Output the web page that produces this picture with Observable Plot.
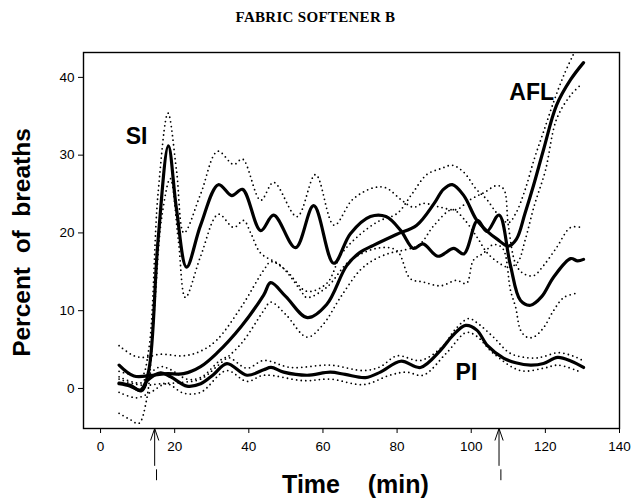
<!DOCTYPE html>
<html>
<head>
<meta charset="utf-8">
<script src="https://cdn.jsdelivr.net/npm/d3@7"></script>
<script src="https://cdn.jsdelivr.net/npm/@observablehq/plot@0.6"></script>
<style>
  html, body { margin: 0; padding: 0; background: #fff; }
  #title { height: 36px; width: 631px; text-align: center; font-family: "Liberation Serif", "Times New Roman", serif; font-weight: bold; font-size: 15px; line-height: 34px; letter-spacing: 0.3px; color: #000; }
  svg { display: block; }
</style>
</head>
<body>
<div id="title">FABRIC SOFTENER B</div>
<div id="chart"></div>
<script>
// ---- Data ----
const xTicks = [0, 20, 40, 60, 80, 100, 120, 140];
const yTicks = [0, 10, 20, 30, 40];

// SI (solid)
const siTime  = [5, 8, 11, 13, 15.5, 18.3, 20.5, 23.2, 27, 31.8, 35.4, 38.3, 43.2, 46.7, 52.6, 57.5, 62.9, 67.4, 72.8, 77, 81, 84.4, 87, 91, 95.3, 98, 101.7, 104.2, 107.5, 110.5, 113.3, 116, 119, 122.2, 126.8, 128.7, 130.3];
const siValue = [0.7, 0.4, -0.3, 2.3, 19, 31.2, 23, 15.6, 21, 26.2, 24.8, 25.6, 20.3, 22.3, 18.1, 23.5, 16.1, 19.9, 22.1, 22.1, 20.3, 18, 18.6, 17, 18, 17.3, 21.6, 20.2, 22.3, 16, 11.3, 10.7, 11.8, 14.3, 16.7, 16.4, 16.6];
// SI upper / lower (dotted)
const siUpTime  = [5, 8, 11, 13, 15.5, 18.2, 20.5, 22.5, 27, 31.6, 35.9, 38.3, 43.2, 46.7, 53, 58, 63, 68, 73.6, 77, 81, 84.4, 87, 91.7, 96, 99.8, 103.5, 107, 108.8, 110, 112, 114, 116.8, 119.5, 123, 126.8, 129.7];
const siUpValue = [2.2, 1.8, 1.5, 5, 25, 35.4, 28, 20, 25, 30.5, 28.8, 29.5, 24.2, 26.5, 22.1, 27.5, 21, 24.3, 25.8, 25.8, 24.3, 23.3, 23.8, 23.3, 23, 24.3, 25.2, 26.1, 25.6, 21, 16, 14.8, 14.5, 15.8, 18.1, 20.7, 20.7];
const siLoTime  = [5, 8, 10.3, 12.4, 14.5, 16.5, 18.8, 21, 22.9, 27, 31.8, 35.9, 38.6, 40.5, 43.2, 48.6, 54, 55.6, 61, 67.4, 75.5, 80, 83.6, 87, 91.7, 96, 98.7, 100.6, 103.3, 106, 108.5, 110.6, 112, 113.3, 115, 116.8, 119.5, 122.2, 125, 129];
const siLoValue = [-3.2, -4, -4.5, -1.5, 10, 22, 27, 19, 11.7, 17, 22.4, 20.7, 21.6, 20, 17.4, 15.8, 12.6, 11.7, 13, 16.5, 18.1, 17.7, 14.1, 13.7, 13.2, 13.9, 13.5, 16.5, 17.4, 18.5, 18, 12.6, 10.4, 7.5, 6.6, 6.6, 7.8, 10, 11.7, 12.3];

// AFL (solid)
const aflTime  = [5, 9, 14, 18, 22.4, 27, 31.3, 38, 44, 45.9, 50, 55.8, 61, 66.4, 70, 73.6, 79.8, 85.3, 90, 92.5, 94.9, 98, 101.4, 104.1, 107, 110, 112.2, 114.5, 116.8, 119.5, 123, 126.8, 130.3];
const aflValue = [3.0, 1.6, 1.7, 1.9, 1.9, 2.8, 4.5, 8.0, 12.0, 13.6, 11.8, 9.1, 10.8, 15.8, 17.5, 18.4, 19.8, 21, 23.8, 25.6, 26.2, 24.8, 21.7, 20.3, 19.2, 18.3, 19.2, 22.5, 26.1, 30.7, 36.4, 39.7, 41.9];
const aflUpTime  = [5, 9, 12, 16, 22.4, 27, 31.3, 38, 44, 46, 50, 55.6, 61, 65, 70, 75, 80, 84, 88, 92, 94.9, 98, 101.4, 104.2, 107, 110, 112, 114.5, 117, 119.5, 122.2, 125, 127.6];
const aflUpValue = [5.5, 4.2, 4.0, 4.4, 4.2, 4.8, 6.2, 10.5, 15.2, 16.3, 15.2, 12.5, 13.5, 17.3, 19.8, 21.5, 22.5, 25, 27.5, 28.3, 28.7, 27.8, 25.6, 24.3, 22.5, 21.3, 22.5, 25.5, 29.5, 33, 36.8, 40.3, 43];
const aflLoTime  = [5, 9, 12, 16, 22.4, 27, 31.3, 38, 44, 45.9, 50, 55.7, 60, 64.7, 70, 73.6, 78, 81, 86, 90, 94.9, 98, 101.5, 104.2, 107, 110, 112.5, 114.5, 117, 120, 123, 126.8, 129.7];
const aflLoValue = [1.2, 0.6, 0.4, 0.6, 0.8, 1.2, 2.8, 5.8, 10.0, 11.1, 9.5, 6.6, 8.2, 11.7, 15.2, 16.5, 17.4, 17.7, 18.5, 21, 23, 21.8, 19.5, 17.5, 16.3, 15.6, 16.2, 19, 23.5, 28, 34.6, 37.7, 39.1];

// PI (solid)
const piTime  = [5, 8, 10.8, 12.6, 16.2, 18.9, 23.3, 27, 30.5, 34.1, 39.5, 44, 46, 49.4, 55.7, 62, 66, 71.5, 75.5, 81, 86.3, 91.7, 95, 98.5, 101.5, 104.4, 108.7, 112, 116, 119.5, 123.3, 127, 130.3];
const piValue = [0.6, 0.3, -0.2, 1.0, 2.0, 1.5, 0.3, 0.6, 1.8, 3.2, 1.7, 2.4, 2.7, 2.1, 1.7, 2.1, 1.8, 1.4, 2.1, 3.5, 2.7, 4.9, 6.8, 8.1, 7.5, 5.5, 3.9, 3.3, 3.0, 3.2, 4.0, 3.5, 2.7];
const piUpTime  = [5, 10.8, 13, 16.2, 19, 23.3, 27, 34, 39.5, 44, 51.3, 62, 71, 75.5, 80, 86.3, 92.5, 95.5, 99.3, 101.4, 106, 110.6, 116.8, 119.5, 123.5, 128.4, 130];
const piUpValue = [1.5, 0.7, 1.8, 2.8, 2.4, 1.2, 1.4, 4.0, 2.6, 3.6, 2.7, 3.0, 2.3, 2.8, 4.2, 3.6, 5.5, 7.5, 9.0, 8.5, 6.6, 4.5, 3.9, 4.1, 4.6, 4.0, 3.6];
const piLoTime  = [5, 9.7, 13.5, 17.8, 22.4, 27, 34, 39.5, 44, 54.8, 62, 71, 78, 82.5, 87, 93.4, 98.7, 101.5, 106, 113.3, 119.5, 123.5, 129];
const piLoValue = [-0.5, -1.2, -0.5, 0.6, -0.6, -0.5, 2.3, 0.9, 1.7, 1.0, 1.2, 0.5, 1.7, 2.1, 1.7, 4.6, 7.2, 6.7, 4.5, 2.3, 2.6, 3.0, 2.2];

// Curve labels
const labelNames = ["SI", "AFL", "PI"];
const labelTime  = [9.7, 116.3, 98.7];
const labelValue = [32.4, 38.1, 2.0];

// Event arrows (minutes)
const eventTimes = [14.6, 107.5];

// Axis titles
const xTitle = "Time    (min)";
const yTitle = "Percent  of  breaths";

// ---- Build ----
const pts = (t, v) => t.map((d, i) => ({t: d, v: v[i]}));
const solid = [pts(siTime, siValue), pts(aflTime, aflValue), pts(piTime, piValue)];
const dotted = [
  pts(siUpTime, siUpValue), pts(siLoTime, siLoValue),
  pts(aflUpTime, aflUpValue), pts(aflLoTime, aflLoValue),
  pts(piUpTime, piUpValue), pts(piLoTime, piLoValue)
];
const labels = labelNames.map((n, i) => ({n, t: labelTime[i], v: labelValue[i]}));

const font = "'Liberation Sans', Arial, Helvetica, sans-serif";

const marks = [];
for (const d of dotted) {
  marks.push(Plot.line(d, {x: "t", y: "v", curve: "catmull-rom", stroke: "black", strokeWidth: 1.8, strokeDasharray: "0,4.6", strokeLinecap: "round"}));
}
for (const d of solid) {
  marks.push(Plot.line(d, {x: "t", y: "v", curve: "catmull-rom", stroke: "black", strokeWidth: 3.2}));
}
marks.push(
  Plot.frame({stroke: "black", strokeWidth: 1.4}),
  Plot.axisX({ticks: xTicks, tickSize: 5, tickPadding: 8, fontSize: 13.5, tickFormat: d => String(d), label: null}),
  Plot.axisY({ticks: yTicks, tickSize: 5, tickPadding: 4, fontSize: 13.5, tickFormat: d => String(d), label: null}),
  Plot.text(labels, {x: "t", y: "v", text: "n", fontSize: 23, fontWeight: "bold", fontFamily: font, fill: "black"}),
  Plot.arrow(eventTimes, {x1: d => d, x2: d => d, y1: -9.9, y2: -5.15, stroke: "black", strokeWidth: 1, headAngle: 38, headLength: 21}),
  Plot.link(eventTimes, {x1: d => d + 0.5, x2: d => d + 0.5, y1: -10.4, y2: -11.8, stroke: "black", strokeWidth: 1}),
  Plot.text([xTitle], {frameAnchor: "bottom", textAnchor: "middle", dx: 4, dy: 64, fontSize: 25, fontWeight: "bold", fontFamily: font, fill: "black"}),
  Plot.text([yTitle], {frameAnchor: "left", textAnchor: "middle", dx: -61, dy: 2, rotate: -90, fontSize: 24.5, fontWeight: "bold", fontFamily: font, fill: "black"})
);

const chart = Plot.plot({
  width: 631,
  height: 465,
  marginTop: 16,
  marginBottom: 73,
  marginLeft: 83,
  marginRight: 12,
  x: {domain: [-4.6, 140]},
  y: {domain: [-5.15, 43.2]},
  style: {fontFamily: font, color: "black", background: "white", overflow: "visible"},
  marks
});
document.getElementById("chart").appendChild(chart);
// keep multiple spaces in title text
chart.querySelectorAll("text").forEach(t => t.setAttribute("xml:space", "preserve"));
chart.style.whiteSpace = "pre";
</script>
</body>
</html>
